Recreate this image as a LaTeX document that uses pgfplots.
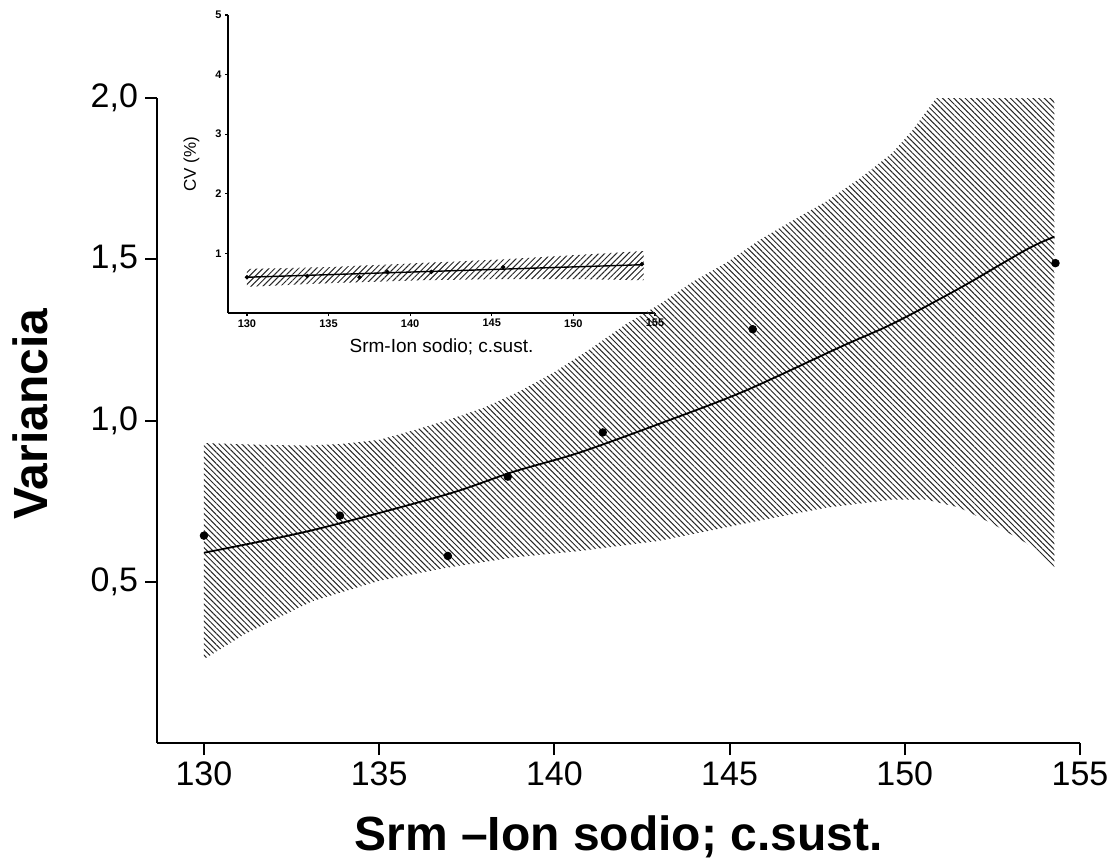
\documentclass[border=0pt]{standalone}
\usepackage{fontspec}
\setmainfont{Liberation Sans}
\usepackage{pgfplots}
\pgfplotsset{compat=1.18}
\usetikzlibrary{patterns.meta}
\usepgfplotslibrary{fillbetween}

\begin{document}
\begin{tikzpicture}

% main plot
\begin{axis}[
    at={(78.5pt,60.5pt)}, anchor=south west,
    scale only axis, width=461.5pt, height=322.5pt,
    xmin=128.66, xmax=155, ymin=0, ymax=2,
    axis x line*=bottom, axis y line*=left,
    axis line style={line width=1pt},
    xtick={130,135,140,145,150,155},
    xticklabels={130,135,140,145,150,155},
    ytick={0.5,1,1.5,2},
    yticklabels={{0,5},{1,0},{1,5},{2,0}},
    tick align=outside, major tick length=6pt,
    tick style={line width=1pt,black},
    ticklabel style={font=\fontsize{17pt}{17pt}\selectfont},
    xlabel={Srm –Ion sodio; c.sust.},
    ylabel={Variancia},
    xlabel style={font=\fontsize{24pt}{24pt}\selectfont\bfseries, anchor=base, at={(axis description cs:0.5,-0.166)}},
    ylabel style={font=\fontsize{24pt}{24pt}\selectfont\bfseries, anchor=base, at={(axis description cs:-0.119,0.51)}},
]
\addplot[draw=none, name path=up] coordinates {
    (130,0.93) (131.5,0.925) (133,0.922) (134,0.928) (135,0.94) (136,0.97)
    (137,1.003) (138,1.04) (139,1.09) (140,1.15) (141,1.22) (142.06,1.30)
    (143,1.36) (143.95,1.43) (144.92,1.49) (145.86,1.56) (146.8,1.62)
    (147.77,1.68) (148.71,1.75) (149.65,1.83) (150.22,1.90) (150.9,2.0)
    (151.5,2.08) (152.5,2.2) (153.5,2.32) (154.27,2.42)
};
\addplot[draw=none, name path=lo] coordinates {
    (130,0.26) (131.2,0.34) (133.1,0.44) (135,0.503) (136.9,0.543)
    (138.8,0.575) (140.7,0.595) (143,0.627) (145.86,0.69) (147.77,0.73)
    (149.65,0.755) (150.6,0.755) (151.56,0.73) (152.5,0.68) (153.47,0.62)
    (154.27,0.54)
};
\addplot[draw=none, pattern={Lines[angle=-45,distance=2pt,line width=0.5pt]},
    pattern color=black!85] fill between[of=up and lo];
\addplot[black, line width=0.9pt, smooth] coordinates {
    (130,0.59) (133.1,0.66) (136.9,0.77) (138.8,0.84) (140.7,0.90) (143,0.99)
    (145.4,1.09) (148.2,1.23) (149.65,1.30) (151.56,1.41) (153.47,1.53) (154.27,1.57)
};
\addplot[only marks, mark=*, mark size=1.9pt, black] coordinates {
    (130,0.643) (133.88,0.705) (136.96,0.58) (138.67,0.826)
    (141.38,0.963) (145.66,1.283) (154.3,1.488)
};
\end{axis}

% inset
\begin{axis}[
    at={(114pt,275.5pt)}, anchor=south west,
    scale only axis, width=213.5pt, height=149pt,
    xmin=128.84, xmax=155, ymin=0, ymax=5,
    axis x line*=bottom, axis y line*=left,
    axis line style={line width=0.8pt},
    xtick={130,135,140,145,150,155},
    xticklabels={130,135,140,145,150,155},
    ytick={1,2,3,4,5},
    yticklabels={1,2,3,4,5},
    tick align=outside, major tick length=1.5pt,
    tick style={line width=0.6pt,black},
    ticklabel style={font=\fontsize{5.5pt}{5.5pt}\selectfont\bfseries, inner sep=1.5pt},
    xlabel={Srm-Ion sodio; c.sust.},
    ylabel={CV (\%)},
    xlabel style={font=\fontsize{9.5pt}{9.5pt}\selectfont, anchor=base, at={(axis description cs:0.5,-0.134)}},
    ylabel style={font=\fontsize{8.5pt}{8.5pt}\selectfont, anchor=base, at={(axis description cs:-0.075,0.5)}},
]
\addplot[draw=none, name path=iup] coordinates {
    (130,0.74) (135,0.77) (140.8,0.84) (145.7,0.90) (150,0.97) (154.3,1.04)
};
\addplot[draw=none, name path=ilo] coordinates {
    (130,0.44) (135,0.50) (140.8,0.55) (145.7,0.57) (150,0.57) (154.3,0.55)
};
\addplot[draw=none, pattern={Lines[angle=45,distance=2.1pt,line width=0.5pt]},
    pattern color=black!85] fill between[of=iup and ilo];
\addplot[black, line width=0.7pt] coordinates {
    (130,0.60) (154.2,0.81)
};
\addplot[only marks, mark=*, mark size=0.9pt, black] coordinates {
    (130,0.60) (133.7,0.62) (136.9,0.60) (138.6,0.69) (141.3,0.69)
    (145.7,0.77) (154.2,0.82)
};
\end{axis}

\pgfresetboundingbox
\useasboundingbox (0,0) rectangle (559.5pt,432pt);
\end{tikzpicture}
\end{document}
